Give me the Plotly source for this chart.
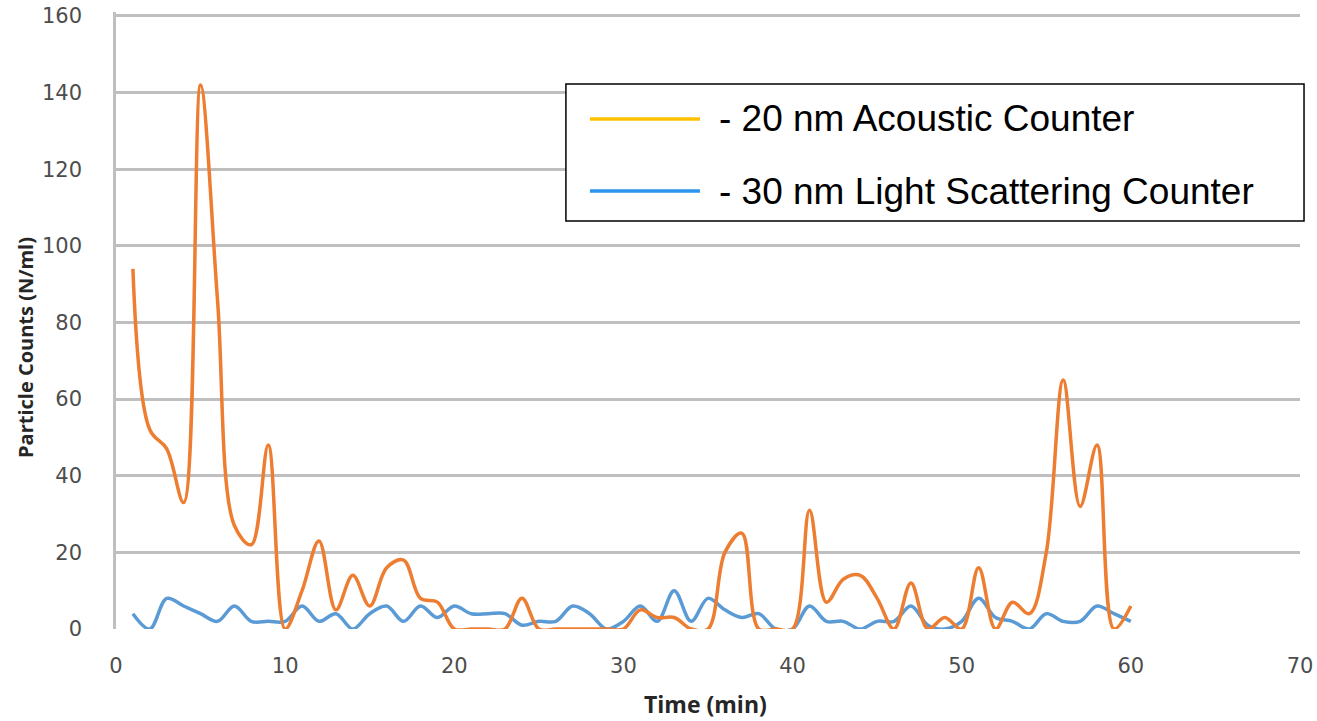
import plotly.graph_objects as go

# ---- data ----
minutes = list(range(1, 61))
acoustic_20nm = [94, 52, 47, 33, 142, 86, 27, 22, 48, 0,
                 10, 23, 5, 14, 6, 16, 18, 8, 7, 0,
                 0, 0, 0, 8, 0, 0, 0, 0, 0, 0,
                 5, 3, 3, 0, 0, 20, 25, 0, 0, 0,
                 31, 7, 13, 14, 8, 0, 12, 0, 3, 0,
                 16, 0, 7, 4, 20, 65, 32, 48, 0, 6]
light_30nm = [4, 0, 8, 6, 4, 2, 6, 2, 2, 2,
              6, 2, 4, 0, 4, 6, 2, 6, 3, 6,
              4, 4, 4, 1, 2, 2, 6, 4, 0, 2,
              6, 2, 10, 2, 8, 5, 3, 4, 0, 0,
              6, 2, 2, 0, 2, 2, 6, 1, 0, 2,
              8, 3, 2, 0, 4, 2, 2, 6, 4, 2]
x_ticks = [0, 10, 20, 30, 40, 50, 60, 70]
y_ticks = [0, 20, 40, 60, 80, 100, 120, 140, 160]
legend_labels = ["- 20 nm Acoustic Counter", "- 30 nm Light Scattering Counter"]
legend_colors = ["#FFC000", "#2E95EE"]

fig = go.Figure()
fig.add_trace(go.Scatter(x=minutes, y=light_30nm, mode="lines",
                         line=dict(color="#5B9BD5", width=3.5, shape="spline", smoothing=1.0),
                         name=legend_labels[1], showlegend=False))
fig.add_trace(go.Scatter(x=minutes, y=acoustic_20nm, mode="lines",
                         line=dict(color="#ED7D31", width=3.5, shape="spline", smoothing=1.0),
                         name=legend_labels[0], showlegend=False))

tick_font = dict(family="DejaVu Sans, sans-serif", size=21, color="#4D4D4D")
title_family = "Open Sans, Liberation Sans, sans-serif"

fig.update_xaxes(range=[0, 70], tickvals=x_ticks, showgrid=False, zeroline=False,
                 showline=False, ticks="", tickfont=tick_font, ticklabelstandoff=22,
                 automargin=False, ticklabeloverflow="allow")
fig.update_yaxes(range=[0, 161.04], tickvals=y_ticks, showgrid=True, gridcolor="#BFBFBF",
                 gridwidth=2.5, zeroline=False, showline=True, linecolor="#BFBFBF",
                 linewidth=2.5, ticks="", tickfont=tick_font, ticklabelstandoff=27,
                 automargin=False, ticklabeloverflow="allow")

# plot area: 617 px tall, bottom at y=629
H = 617.0
def py(v):
    return v * 613.0 / H

shapes = [dict(type="rect", xref="paper", yref="paper", x0=0.380, x1=1.0034,
               y0=py(0.6656), y1=py(0.889), line=dict(color="black", width=1.5),
               fillcolor="white", layer="above")]
annots = [
    dict(xref="paper", yref="paper", x=-0.0769, y=py(0.46), xanchor="center",
         yanchor="middle", textangle=-90, showarrow=False,
         text="<b>Particle Counts (N/ml)</b>",
         font=dict(family=title_family, size=20, color="#262626")),
    dict(xref="paper", yref="paper", x=0.498, y=-75 / H, xanchor="center",
         yanchor="middle", showarrow=False, text="<b>Time (min)</b>",
         font=dict(family=title_family, size=23, color="#262626")),
]
for i, (lab, col) in enumerate(zip(legend_labels, legend_colors)):
    yy = py([0.832, 0.7145][i])
    shapes.append(dict(type="line", xref="paper", yref="paper", x0=0.4003, x1=0.4932,
                       y0=yy, y1=yy, line=dict(color=col, width=3.5), layer="above"))
    annots.append(dict(xref="paper", yref="paper", x=0.508, y=yy, xanchor="left",
                       yanchor="middle", text=lab, showarrow=False,
                       font=dict(family="Liberation Sans, Arial, sans-serif", size=37, color="black")))

fig.update_layout(width=1317, height=721, margin=dict(l=116, r=17, t=12, b=92),
                  plot_bgcolor="white", paper_bgcolor="white",
                  shapes=shapes, annotations=annots, showlegend=False)

# remove the browser's default 8px body margin so the figure fills the window
fig.write_html("out.html", config={"displayModeBar": False},
               post_script="document.body.style.margin='0';")
